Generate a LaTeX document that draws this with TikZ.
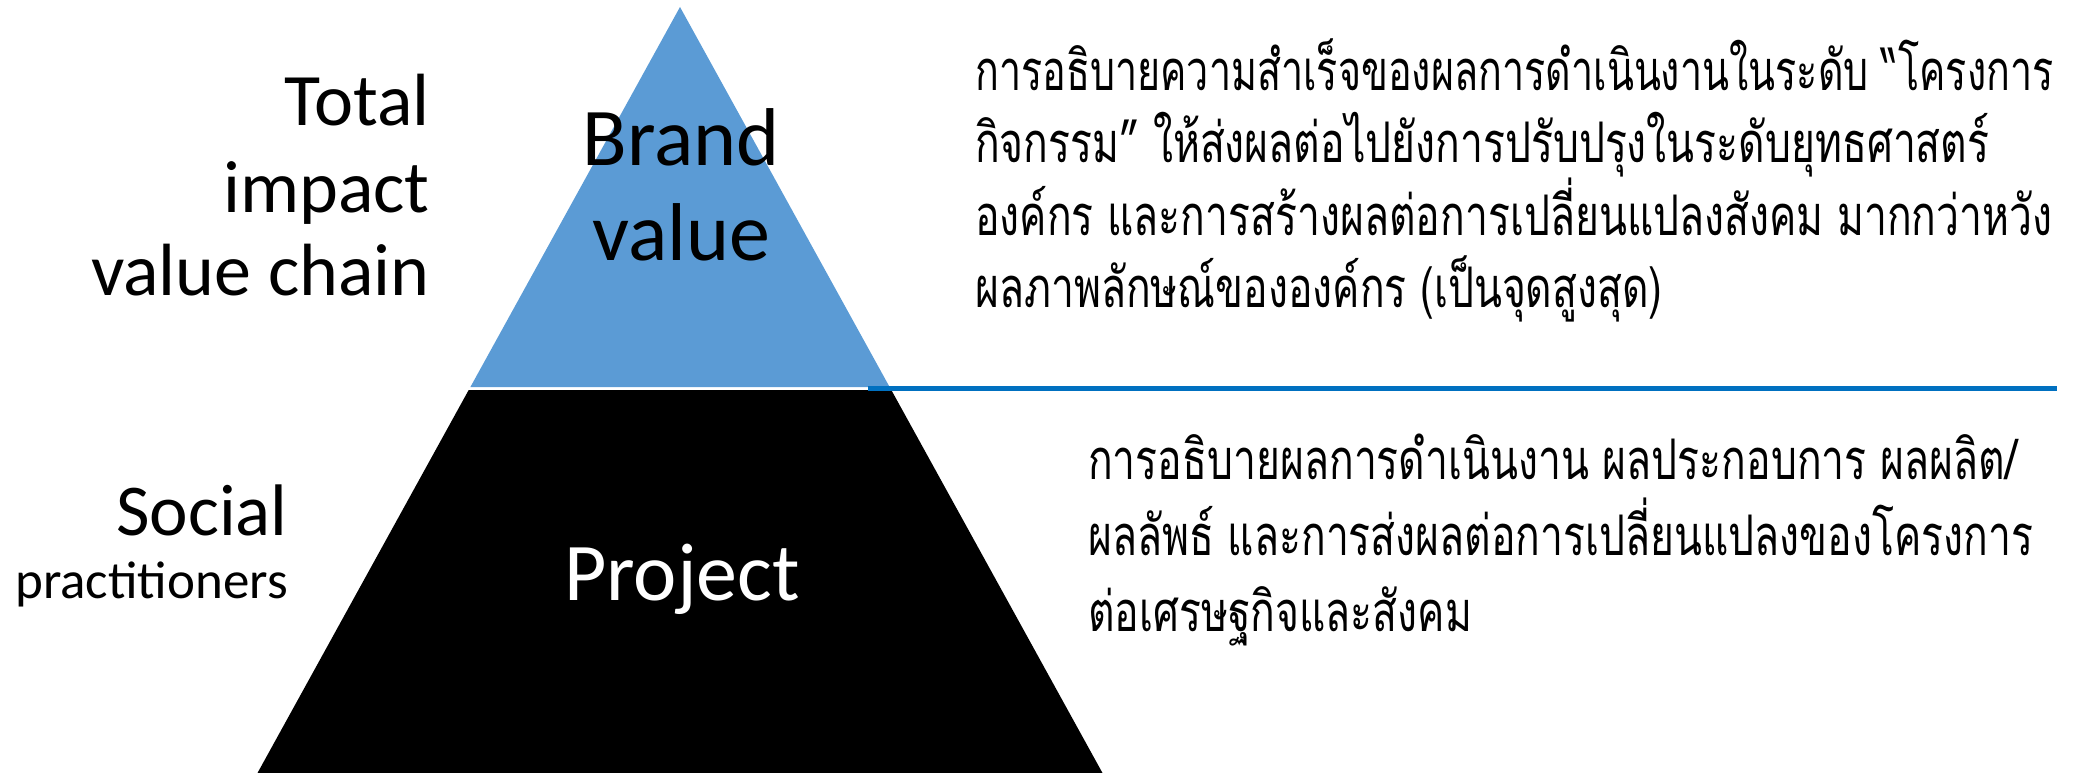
\documentclass[tikz,border=0pt]{standalone}
\usepackage{fontspec}
\setmainfont{Carlito}
\newfontfamily\thaifont[Script=Thai,FakeStretch=0.73]{Loma}
\definecolor{pyrblue}{HTML}{5B9BD5}
\definecolor{lineblue}{HTML}{0070C0}
\tikzset{
  leftlbl/.style={anchor=base east, inner sep=0pt, font=\fontsize{74}{80}\selectfont},
  smalllbl/.style={anchor=base east, inner sep=0pt, font=\fontsize{53}{60}\selectfont},
  tierlbl/.style={anchor=base, inner sep=0pt, font=\fontsize{82}{90}\selectfont},
  thailine/.style={anchor=base west, inner sep=0pt, font=\thaifont\fontsize{56}{60}\selectfont},
}
\begin{document}
\begin{tikzpicture}[x=1pt,y=-1pt]
\useasboundingbox (0,0) rectangle (2078,773);
% pyramid
\fill[pyrblue] (680,7) -- (889.6,387) -- (470.4,387) -- cycle;
\fill[black] (468.7,390) -- (891.3,390) -- (1102.5,773) -- (257.5,773) -- cycle;
\coordinate (ls) at (868,388.5);
\coordinate (le) at (2057,388.5);
\draw[lineblue, line width=5.5pt] (ls) -- (le);
% left labels
\node[leftlbl] (t1) at (430,126) {Total};
\node[leftlbl] (t2) at (430,212) {impact};
\node[leftlbl] (t3) at (430,295) {value chain};
\node[leftlbl, font=\fontsize{73}{80}\selectfont] (s1) at (288,535) {Social};
\node[smalllbl] (s2) at (288,598) {practitioners};
% tier labels
\node[tierlbl] (b1) at (681,165) {Brand};
\node[tierlbl] (b2) at (681,260) {value};
\node[tierlbl, text=white] (p1) at (682,600) {Project};
% right text block 1
\node[thailine] (a1) at (975,91) {\scalebox{0.965}[1]{การอธิบายความสำเร็จของผลการดำเนินงานในระดับ “โครงการ}};
\node[thailine] (a2) at (975,163) {กิจกรรม” ให้ส่งผลต่อไปยังการปรับปรุงในระดับยุทธศาสตร์};
\node[thailine] (a3) at (975,235) {องค์กร และการสร้างผลต่อการเปลี่ยนแปลงสังคม มากกว่าหวัง};
\node[thailine] (a4) at (975,307) {ผลภาพลักษณ์ขององค์กร (เป็นจุดสูงสุด)};
% right text block 2
\node[thailine] (c1) at (1088,479) {การอธิบายผลการดำเนินงาน ผลประกอบการ ผลผลิต/};
\node[thailine] (c2) at (1088,555) {ผลลัพธ์ และการส่งผลต่อการเปลี่ยนแปลงของโครงการ};
\node[thailine] (c3) at (1088,631) {ต่อเศรษฐกิจและสังคม};
\end{tikzpicture}
\end{document}
